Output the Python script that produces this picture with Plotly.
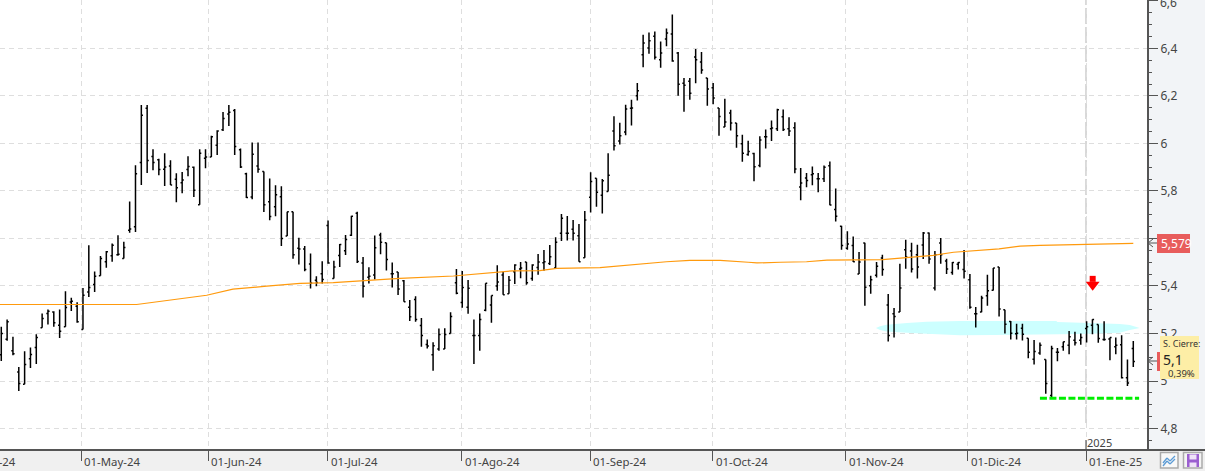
import plotly.graph_objects as go

W, H = 1205, 471
PLOT_R, PLOT_B = 1147, 450
X_MIN, X_MAX = -0.22, 196.35
Y_MIN, Y_MAX = 4.7095, 6.604

opens = [
5.111,5.176,5.127,5.038,4.986,5.094,5.141,5.224,5.284,5.291,
5.235,5.228,5.333,5.315,5.217,5.375,5.406,5.443,5.502,5.527,
5.531,5.516,5.635,5.649,5.920,6.148,5.945,5.931,5.891,5.905,
5.849,5.835,5.890,5.900,5.742,5.938,5.943,5.993,6.058,6.124,
6.139,5.974,5.873,5.775,5.905,5.882,5.755,5.734,5.776,5.610,
5.713,5.559,5.556,5.493,5.424,5.452,5.655,5.432,5.528,5.548,
5.614,5.706,5.497,5.437,5.446,5.615,5.582,5.452,5.459,5.422,
5.310,5.343,5.234,5.154,5.111,5.135,5.135,5.200,5.414,5.331,
5.310,5.192,5.192,5.298,5.320,5.400,5.446,5.367,5.460,5.471,
5.501,5.432,5.478,5.498,5.495,5.476,5.622,5.622,5.639,5.611,
5.519,5.774,5.854,5.782,5.798,6.052,6.010,6.048,6.148,6.201,
6.373,6.402,6.451,6.352,6.440,6.461,6.381,6.253,6.262,6.364,
6.343,6.276,6.235,6.149,6.069,6.128,6.086,5.999,5.954,5.958,
5.907,6.028,6.062,6.062,6.112,6.062,6.066,5.817,5.855,5.868,
5.851,5.851,5.906,5.722,5.651,5.559,5.570,5.450,5.581,5.401,
5.445,5.518,5.320,5.283,5.290,5.553,5.547,5.532,5.573,5.623,
5.391,5.581,5.505,5.457,5.491,5.469,5.426,5.283,5.291,5.359,
5.382,5.480,5.300,5.251,5.199,5.222,5.180,5.092,5.118,5.090,
4.939,5.121,5.144,5.151,5.172,5.172,5.221,5.235,5.238,5.175,
5.177,5.144,5.153,5.014,5.137]

highs = [
5.228,5.259,5.186,5.059,5.125,5.141,5.197,5.284,5.301,5.294,
5.301,5.378,5.350,5.332,5.392,5.572,5.461,5.526,5.547,5.579,
5.614,5.586,5.756,5.908,6.162,6.162,5.976,5.936,5.959,5.929,
5.875,5.880,5.946,5.903,5.976,5.976,6.032,6.056,6.132,6.162,
6.145,5.979,5.877,6.004,6.004,5.882,5.852,5.824,5.820,5.713,
5.713,5.603,5.568,5.537,5.441,5.504,5.676,5.506,5.577,5.615,
5.696,5.713,5.522,5.479,5.613,5.624,5.582,5.499,5.459,5.425,
5.341,5.357,5.265,5.175,5.163,5.221,5.222,5.289,5.471,5.463,
5.425,5.259,5.284,5.411,5.360,5.487,5.460,5.442,5.491,5.501,
5.501,5.491,5.535,5.552,5.573,5.605,5.703,5.695,5.678,5.661,
5.716,5.879,5.854,5.850,5.959,6.115,6.087,6.163,6.184,6.255,
6.458,6.467,6.471,6.429,6.484,6.543,6.385,6.276,6.276,6.398,
6.385,6.276,6.255,6.149,6.188,6.142,6.086,6.037,6.011,5.961,
6.030,6.059,6.097,6.146,6.143,6.110,6.089,5.897,5.876,5.903,
5.876,5.907,5.924,5.810,5.654,5.630,5.608,5.543,5.582,5.443,
5.501,5.532,5.366,5.307,5.494,5.595,5.582,5.574,5.627,5.625,
5.547,5.602,5.515,5.501,5.501,5.552,5.450,5.312,5.359,5.447,
5.476,5.480,5.300,5.253,5.241,5.241,5.180,5.173,5.162,5.090,
5.148,5.139,5.165,5.210,5.207,5.200,5.252,5.260,5.238,5.252,
5.183,5.183,5.193,5.090,5.168]

lows = [
5.084,5.169,5.108,4.958,4.986,5.055,5.072,5.224,5.238,5.228,
5.181,5.228,5.295,5.245,5.217,5.354,5.375,5.443,5.477,5.502,
5.527,5.516,5.624,5.627,5.825,5.876,5.887,5.866,5.821,5.825,
5.753,5.790,5.862,5.775,5.742,5.896,5.943,5.951,6.053,6.074,
5.951,5.897,5.770,5.765,5.877,5.711,5.677,5.694,5.568,5.610,
5.515,5.490,5.462,5.389,5.399,5.410,5.494,5.432,5.480,5.530,
5.610,5.497,5.352,5.410,5.427,5.534,5.465,5.394,5.362,5.334,
5.253,5.249,5.144,5.137,5.043,5.127,5.135,5.200,5.365,5.308,
5.283,5.072,5.127,5.294,5.245,5.380,5.363,5.367,5.408,5.433,
5.405,5.422,5.447,5.464,5.488,5.476,5.589,5.591,5.591,5.502,
5.519,5.709,5.734,5.705,5.798,5.970,5.996,6.035,6.076,6.181,
6.321,6.378,6.353,6.319,6.409,6.344,6.201,6.134,6.184,6.253,
6.294,6.159,6.165,6.032,6.069,6.055,5.982,5.923,5.948,5.841,
5.900,5.979,6.010,6.052,6.052,6.031,5.875,5.761,5.816,5.824,
5.795,5.838,5.740,5.672,5.553,5.553,5.501,5.450,5.317,5.367,
5.436,5.443,5.166,5.183,5.290,5.473,5.457,5.431,5.514,5.494,
5.381,5.494,5.450,5.447,5.469,5.431,5.304,5.225,5.289,5.317,
5.381,5.272,5.200,5.175,5.175,5.170,5.096,5.069,5.111,4.946,
4.932,5.083,5.127,5.113,5.149,5.153,5.162,5.197,5.161,5.169,
5.087,5.113,5.010,4.979,5.059]

closes = [
5.200,5.249,5.115,4.989,5.069,5.112,5.183,5.263,5.294,5.245,
5.209,5.309,5.336,5.249,5.361,5.394,5.441,5.516,5.544,5.572,
5.534,5.562,5.640,5.873,6.119,5.928,5.920,5.890,5.901,5.825,
5.814,5.846,5.903,5.803,5.959,5.943,6.028,6.053,6.105,6.131,
5.987,5.901,5.772,5.955,5.891,5.742,5.693,5.784,5.600,5.713,
5.531,5.556,5.469,5.413,5.415,5.427,5.497,5.480,5.575,5.596,
5.694,5.503,5.399,5.441,5.561,5.584,5.511,5.452,5.387,5.334,
5.270,5.259,5.192,5.147,5.148,5.196,5.196,5.272,5.369,5.394,
5.390,5.192,5.259,5.411,5.360,5.417,5.363,5.424,5.488,5.476,
5.414,5.488,5.501,5.502,5.523,5.584,5.685,5.622,5.622,5.502,
5.678,5.840,5.795,5.843,5.866,5.990,6.032,6.145,6.149,6.222,
6.423,6.432,6.363,6.381,6.465,6.347,6.249,6.245,6.211,6.352,
6.309,6.229,6.191,6.114,6.090,6.086,6.032,5.959,5.966,5.902,
6.015,6.028,6.065,6.142,6.059,6.053,5.893,5.834,5.844,5.872,
5.851,5.900,5.741,5.694,5.570,5.577,5.502,5.501,5.395,5.426,
5.483,5.469,5.192,5.272,5.391,5.522,5.471,5.480,5.623,5.514,
5.532,5.532,5.471,5.499,5.499,5.462,5.310,5.283,5.349,5.380,
5.476,5.303,5.239,5.201,5.201,5.197,5.121,5.124,5.151,4.989,
5.137,5.121,5.165,5.186,5.161,5.183,5.228,5.259,5.179,5.175,
5.183,5.151,5.014,4.992,5.082]

ma_pos = [-1,23.2,35.2,39.7,45.5,51.2,56.9,62.6,68.3,77.5,83.2,87.7,92.3,95.2,102.6,108.3,114,118,123.2,128,129.5,133.5,138,141.5,151,154.6,159.7,163.2,169,171,174.6,178,194]
ma_val = [5.322,5.322,5.361,5.387,5.399,5.411,5.414,5.423,5.432,5.442,5.453,5.464,5.465,5.474,5.477,5.491,5.502,5.508,5.508,5.500,5.497,5.500,5.502,5.509,5.511,5.518,5.529,5.542,5.553,5.556,5.568,5.571,5.579]

zone_pos = [149.9,150.6,151.7,155.2,158.6,164.3,180.8,181,191.7,193.4,195.1,193.4,191.7,185,170,164.3,158.6,155.2,151.7,150.6,149.9]
zone_val = [5.223,5.231,5.237,5.244,5.249,5.253,5.253,5.248,5.240,5.236,5.223,5.215,5.203,5.198,5.194,5.193,5.199,5.203,5.208,5.215,5.223]

support_pos = [178,195]
support_val = [4.927,4.927]
signal_pos = [187.04]
signal_head = [5.405]
signal_shaft = [5.43]

month_pos = [13.74,35.51,55.99,78.95,100.9,121.97,144.76,165.67,185.9]
month_labels = ["01-May-24","01-Jun-24","01-Jul-24","01-Ago-24","01-Sep-24","01-Oct-24","01-Nov-24","01-Dic-24","01-Ene-25"]
year_pos = 185.9
last_ma = "5,579"

FONT = "Noto Sans"
INK = "#444444"
AXIS = "#555555"
GRID = "#dedede"

def px(x): return x / PLOT_R
def py(y): return (PLOT_B - y) / PLOT_B

fig = go.Figure()
fig.add_trace(go.Scatter(x=ma_pos, y=ma_val, mode="lines", line=dict(color="#ff9a0d", width=1.2), hoverinfo="skip"))
fig.add_trace(go.Ohlc(x=list(range(len(opens))), open=opens, high=highs, low=lows, close=closes,
                      increasing=dict(line=dict(color="#000000", width=1.5)),
                      decreasing=dict(line=dict(color="#000000", width=1.5)), tickwidth=0.28))
fig.add_trace(go.Scatter(x=support_pos, y=support_val, mode="lines",
                         line=dict(color="#00ee00", width=3, dash="7px,2.5px"), hoverinfo="skip"))
fig.add_trace(go.Scatter(x=signal_pos, y=signal_head, mode="markers",
                         marker=dict(symbol="triangle-down", size=12, color="#ff0000", line=dict(width=0)), hoverinfo="skip"))
fig.add_trace(go.Scatter(x=signal_pos, y=signal_shaft, mode="markers",
                         marker=dict(symbol="square", size=6, color="#ff0000", line=dict(width=0)), hoverinfo="skip"))

def rect(x0, y0, x1, y1, fill, line=None, width=0, layer="above"):
    return dict(type="rect", xref="paper", yref="paper", x0=px(x0), x1=px(x1), y0=py(y0), y1=py(y1),
                fillcolor=fill, line=dict(color=line or fill, width=width), layer=layer)

def seg(x0, y0, x1, y1, color, width=1, dash="solid", layer="above"):
    return dict(type="line", xref="paper", yref="paper", x0=px(x0), x1=px(x1), y0=py(y0), y1=py(y1),
                line=dict(color=color, width=width, dash=dash), layer=layer)

zone_path = "M " + " L ".join(f"{a} {b}" for a, b in zip(zone_pos, zone_val)) + " Z"

shapes = [
    rect(1148.5, 0, 1205, 449, "#f2f4f7", layer="below"),
    seg(0, 450, 1205, 450, AXIS, 2),
    # price zone, under the bars
    dict(type="path", xref="x", yref="y", path=zone_path, fillcolor="#ccffff", line=dict(width=0), layer="between"),
    # 2025 divider
    dict(type="line", xref="x", yref="paper", x0=year_pos, x1=year_pos, y0=py(423), y1=py(450),
         line=dict(color="#ffffff", width=2), layer="between"),
    dict(type="line", xref="x", yref="paper", x0=year_pos, x1=year_pos, y0=py(423), y1=1,
         line=dict(color="#cccccc", width=1.5, dash="16px,3px"), layer="between"),
    dict(type="line", xref="x", yref="paper", x0=year_pos, x1=year_pos, y0=py(440), y1=py(450),
         line=dict(color=AXIS, width=1.2), layer="above"),
    # last MA marker
    rect(1157, 234, 1190, 253, "#e85c5c"),
    seg(1148, 243, 1157, 243, AXIS, 1), seg(1148, 243, 1153, 239, AXIS, 1), seg(1148, 243, 1153, 247, AXIS, 1),
    # last close marker
    rect(1157, 352, 1160, 371, "#e85c5c"),
    rect(1160, 336, 1199, 379, "#fdeeA6"),
    seg(1148, 361, 1157, 361, AXIS, 1), seg(1148, 361, 1153, 357, AXIS, 1), seg(1148, 361, 1153, 365, AXIS, 1),
    # bottom icons
    rect(1160.5, 452.5, 1178, 468, "#f8f8f8", "#aaaaaa", 1.5),
    seg(1163, 463, 1167, 458, "#5b9bd5", 1.3), seg(1167, 458, 1170, 461, "#5b9bd5", 1.3),
    seg(1170, 461, 1175, 456, "#5b9bd5", 1.3),
    seg(1163, 466, 1167, 461, "#5b9bd5", 1.3), seg(1167, 461, 1170, 464, "#5b9bd5", 1.3),
    seg(1170, 464, 1175, 459, "#5b9bd5", 1.3),
    rect(1183.5, 452.5, 1202, 468, "#f4f4f4", "#aaaaaa", 1.5),
    rect(1187, 454, 1199, 467, "#9b5fd0"),
    rect(1189.5, 454.5, 1196.5, 459.5, "#efe3f8"),
    rect(1189.5, 462.5, 1196.5, 467, "#efe3f8"),
]

def note(x, y, text, size=11.4, color=INK, anchor="left", xref="paper"):
    return dict(x=x, y=py(y), xref=xref, yref="paper", text=text, showarrow=False, xanchor=anchor, yanchor="middle",
                font=dict(family=FONT, size=size, color=color), borderpad=0)

annotations = [note(p, 461, t, xref="x") | dict(xshift=2) for p, t in zip(month_pos, month_labels)]
annotations += [
    note(px(-38), 461, "01-Abr-24"),
    note(px(1159), 2, "6,6", 12),
    note(year_pos, 442, "2025", size=11, xref="x"),
    note(px(1159.5), 244, last_ma, 12, "#ffffff"),
    note(px(1162), 343, "S. Cierre:", 9, "#333333"),
    note(px(1162), 359, "5,1", 14, "#222222"),
    note(px(1167), 373, "0,39%", 9.5, "#333333"),
]

fig.update_layout(
    width=W, height=H, autosize=False, showlegend=False,
    margin=dict(l=0, r=W - PLOT_R, t=0, b=H - PLOT_B, pad=0),
    paper_bgcolor="#f0f0f0", plot_bgcolor="#ffffff", separators=", ",
    font=dict(family=FONT, size=12, color=INK),
    shapes=shapes, annotations=annotations,
    xaxis=dict(range=[X_MIN, X_MAX], rangeslider=dict(visible=False), tickmode="array", tickvals=month_pos,
               showticklabels=False, ticks="outside", ticklen=10, tickcolor=AXIS, tickwidth=1.2,
               showgrid=True, gridcolor=GRID, gridwidth=1.3, griddash="5px,4px", zeroline=False, showline=False),
    yaxis=dict(range=[Y_MIN, Y_MAX], side="right", tickmode="linear", tick0=0, dtick=0.2,
               ticks="outside", ticklen=9, tickcolor=AXIS, tickwidth=1.2, showline=True, linecolor=AXIS, linewidth=2,
               showgrid=True, gridcolor=GRID, gridwidth=1.3, griddash="5px,4px", zeroline=False,
               tickfont=dict(family=FONT, size=12, color=INK),
               minor=dict(tick0=0, dtick=0.05, ticks="outside", ticklen=3, tickcolor=AXIS, tickwidth=1.2, showgrid=False)),
)
fig.write_html("out.html", config=dict(displayModeBar=False),
               post_script="document.body.style.margin='0';document.body.style.overflow='hidden';")
